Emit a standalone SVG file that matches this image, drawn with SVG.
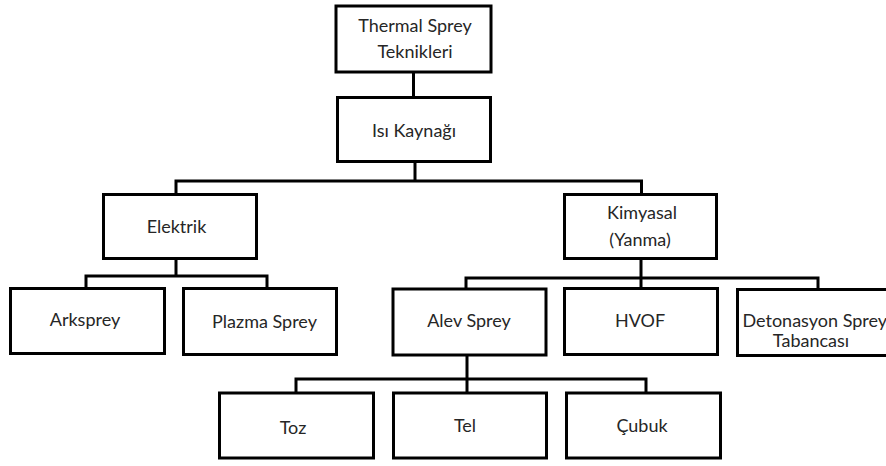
<svg xmlns="http://www.w3.org/2000/svg" width="886" height="466" viewBox="0 0 886 466">
<style>
.box{fill:#fff;stroke:#000;stroke-width:3}
.c{fill:none;stroke:#000;stroke-width:3}
text{font-family:Lato,"Liberation Sans",sans-serif;font-size:18px;fill:#262626;text-anchor:middle}
</style>
<rect width="886" height="466" fill="#fff"/>
<g id="connectors">
<path class="c" d="M413.5,72V97"/>
<path class="c" d="M415,162V181M176,194V181H641.5V194"/>
<path class="c" d="M176,259V276M86,288V276H267V288"/>
<path class="c" d="M641,259V289M466,289V278H818V289"/>
<path class="c" d="M467,355V393M296,393V379H646V393"/>
</g>
<g id="n-thermal"><rect class="box" x="336" y="6" width="155" height="66"/><text x="415" y="32">Thermal Sprey</text><text x="415" y="58">Teknikleri</text></g>
<g id="n-isi"><rect class="box" x="337.5" y="97.5" width="153" height="64"/><text x="414" y="137">Isı Kaynağı</text></g>
<g id="n-elektrik"><rect class="box" x="103.5" y="194.5" width="153" height="64"/><text x="176.5" y="233">Elektrik</text></g>
<g id="n-kimyasal"><rect class="box" x="564.5" y="194.5" width="152" height="64"/><text x="642" y="219">Kimyasal</text><text x="640" y="246">(Yanma)</text></g>
<g id="n-arksprey"><rect class="box" x="10.5" y="288.5" width="154" height="65"/><text x="85" y="326">Arksprey</text></g>
<g id="n-plazma"><rect class="box" x="183.5" y="288.5" width="153" height="66"/><text x="264.5" y="327.5">Plazma Sprey</text></g>
<g id="n-alev"><rect class="box" x="393" y="289" width="153" height="66"/><text x="469" y="327">Alev Sprey</text></g>
<g id="n-hvof"><rect class="box" x="564.5" y="288.5" width="153" height="66"/><text x="640" y="327">HVOF</text></g>
<g id="n-detonasyon"><rect class="box" x="737.5" y="289.5" width="160" height="66"/><text x="742.5" y="327" style="text-anchor:start">Detonasyon Sprey</text><text x="811" y="347">Tabancası</text></g>
<g id="n-toz"><rect class="box" x="219.5" y="393" width="154" height="65"/><text x="293" y="434">Toz</text></g>
<g id="n-tel"><rect class="box" x="393.5" y="393" width="153" height="65"/><text x="465" y="431.5">Tel</text></g>
<g id="n-cubuk"><rect class="box" x="566.5" y="393" width="154" height="65"/><text x="642" y="431.5">Çubuk</text></g>
</svg>
